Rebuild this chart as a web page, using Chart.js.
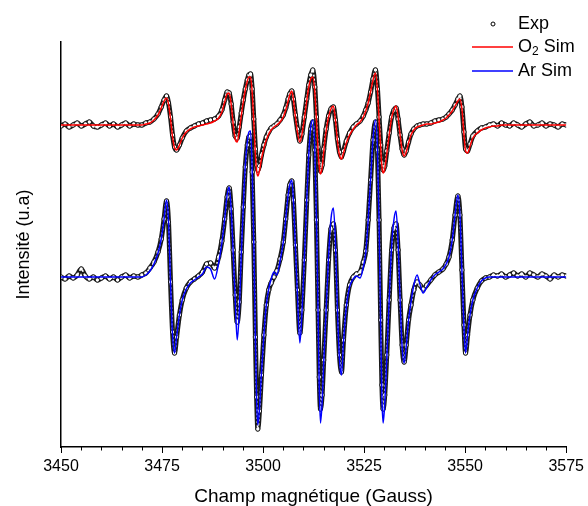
<!DOCTYPE html>
<html>
<head>
<meta charset="utf-8">
<script src="https://cdn.jsdelivr.net/npm/chart.js@4.4.1/dist/chart.umd.min.js"></script>
<style>
  body { margin: 0; background: #fff; }
  #wrap { width: 588px; height: 506px; }
</style>
</head>
<body>
<div id="wrap"><canvas id="epr" width="588" height="506"></canvas></div>
<script>
// magnetic field (Gauss), shared by all four traces
const field = [
  3450, 3451, 3452, 3453, 3454, 3455, 3456, 3457, 3458, 3459,
  3460, 3461, 3462, 3463, 3464, 3465, 3466, 3467, 3468, 3469,
  3470, 3471, 3472, 3473, 3474, 3474.8, 3475.5, 3476.1, 3476.6, 3477.1,
  3477.6, 3478.1, 3478.6, 3479.3, 3480, 3481, 3482, 3483, 3484, 3485,
  3486, 3487, 3488, 3489, 3489.8, 3490.5, 3491.1, 3491.6, 3492.1, 3492.6,
  3493.1, 3493.6, 3494.1, 3494.6, 3495.1, 3495.6, 3496.1, 3496.5, 3496.9, 3497.3,
  3497.7, 3498.1, 3498.4, 3498.7, 3499.1, 3499.6, 3500.2, 3500.8, 3501.4, 3502,
  3502.7, 3503.4, 3504.2, 3505, 3505.6, 3506.2, 3506.6, 3507.1, 3507.5, 3508,
  3508.5, 3509.1, 3509.6, 3510.2, 3510.8, 3511.3, 3511.8, 3512.3, 3512.8, 3513.2,
  3513.6, 3513.9, 3514.2, 3514.6, 3515, 3515.6, 3516.2, 3516.8, 3517.4, 3517.9,
  3518.4, 3518.9, 3519.4, 3519.9, 3520.6, 3521.4, 3522.3, 3523.1, 3524, 3524.8,
  3525.4, 3526, 3526.6, 3527.2, 3527.8, 3528.3, 3528.7, 3529.1, 3529.4, 3529.7,
  3530.1, 3530.6, 3531.2, 3531.8, 3532.4, 3532.9, 3533.4, 3533.9, 3534.4, 3534.9,
  3535.4, 3536, 3536.6, 3537.3, 3538.1, 3538.8, 3539.6, 3540.5, 3541.5, 3542.5,
  3543.5, 3544.5, 3545.3, 3546, 3546.8, 3547.5, 3548.2, 3548.7, 3549.2, 3549.7,
  3550.1, 3550.6, 3551.2, 3551.9, 3553, 3554, 3555, 3556, 3557, 3558,
  3559, 3560, 3561, 3562, 3563, 3564, 3565, 3566, 3567, 3568,
  3569, 3570, 3571, 3572, 3573, 3574, 3575
];

// O2 sample (upper trace), arbitrary units
const o2Exp = [
  321, 323, 320, 322, 324, 321, 323, 325, 321, 320,
  322, 324, 321, 323, 320, 322, 324, 321, 323, 322,
  322, 324, 325, 328, 333, 340, 347, 351, 344, 330,
  312, 300, 297, 302, 309, 316, 319, 321, 323, 324,
  326, 327, 328, 331, 337, 347, 355, 354, 343, 325,
  311, 309, 320, 334, 347, 358, 367, 372, 373, 358,
  328, 298, 282, 277, 281, 292, 302, 310, 315, 319,
  321, 323, 327, 332, 339, 348, 353, 356, 348, 332,
  318, 306, 313, 330, 348, 362, 372, 377, 360, 330,
  300, 284, 276, 282, 298, 318, 331, 338, 340, 327,
  308, 295, 290, 296, 306, 314, 320, 323, 326, 331,
  337, 344, 355, 368, 377, 358, 330, 302, 284, 277,
  281, 296, 314, 330, 337, 339, 328, 312, 298, 292,
  296, 305, 313, 318, 321, 322, 323, 323, 324, 326,
  327, 328, 330, 333, 337, 342, 348, 351, 340, 315,
  298, 296, 303, 311, 316, 319, 320, 322, 323, 321,
  324, 322, 321, 324, 322, 320, 323, 325, 321, 322,
  324, 321, 323, 322, 320, 323, 322
];
const o2Sim = [
  322, 322, 322, 322, 322, 322, 322, 322, 322, 322,
  322, 322, 322, 322, 322, 322, 322, 322, 322, 322,
  322, 323, 324, 327, 332, 339, 346, 349, 343, 328,
  310, 299, 297, 302, 309, 315, 318, 320, 321, 322,
  323, 324, 326, 329, 335, 345, 353, 354, 343, 323,
  308, 305, 316, 331, 345, 357, 366, 370, 370, 355,
  325, 292, 276, 271, 276, 288, 299, 307, 313, 317,
  320, 322, 325, 330, 337, 346, 352, 356, 348, 330,
  315, 305, 312, 328, 346, 360, 368, 370, 355, 327,
  297, 280, 273, 279, 295, 316, 330, 338, 341, 327,
  306, 292, 288, 294, 304, 312, 318, 322, 325, 330,
  336, 344, 355, 367, 374, 357, 328, 299, 281, 274,
  278, 293, 312, 329, 338, 341, 330, 312, 297, 291,
  295, 304, 312, 317, 320, 321, 322, 323, 323, 324,
  325, 327, 329, 332, 336, 341, 346, 348, 338, 313,
  296, 294, 301, 309, 314, 317, 319, 320, 321, 321,
  322, 322, 322, 322, 322, 322, 322, 322, 322, 322,
  322, 322, 322, 322, 322, 322, 322
];

// Ar sample (lower trace), arbitrary units
const arExp = [
  170, 168, 171, 169, 172, 178, 171, 168, 170, 167,
  169, 171, 168, 170, 167, 170, 172, 169, 171, 170,
  172, 174, 179, 185, 195, 208, 228, 246, 225, 165,
  115, 94, 110, 132, 147, 159, 165, 168, 171, 175,
  183, 184, 179, 190, 206, 228, 250, 259, 238, 197,
  152, 125, 145, 195, 240, 280, 302, 310, 311, 275,
  205, 110, 50, 18, 36, 72, 112, 142, 157, 164,
  170, 176, 188, 205, 228, 252, 262, 266, 247, 202,
  157, 114, 137, 187, 247, 292, 318, 325, 297, 227,
  137, 70, 38, 52, 87, 137, 187, 218, 223, 197,
  137, 92, 75, 107, 142, 162, 170, 173, 175, 185,
  196, 227, 267, 307, 325, 297, 227, 127, 62, 38,
  52, 92, 147, 197, 219, 223, 197, 147, 102, 85,
  102, 127, 142, 157, 165, 162, 158, 162, 167, 172,
  175, 178, 183, 190, 207, 232, 251, 232, 177, 122,
  94, 112, 132, 147, 159, 166, 169, 170, 172, 171,
  173, 170, 172, 174, 171, 173, 170, 174, 172, 170,
  173, 171, 168, 172, 170, 172, 171
];
const arSim = [
  170, 170, 170, 170, 170, 170, 170, 170, 170, 170,
  170, 170, 170, 170, 170, 170, 170, 170, 170, 170,
  170, 172, 176, 183, 194, 208, 228, 247, 226, 164,
  112, 94, 110, 132, 147, 158, 164, 167, 170, 173,
  180, 178, 168, 184, 204, 228, 252, 260, 238, 195,
  148, 107, 135, 192, 240, 282, 305, 315, 316, 278,
  205, 108, 48, 22, 38, 74, 112, 142, 158, 168,
  175, 172, 186, 205, 228, 252, 262, 267, 247, 200,
  152, 104, 133, 187, 247, 292, 320, 327, 298, 230,
  135, 60, 24, 44, 84, 137, 190, 228, 239, 205,
  137, 88, 72, 105, 140, 160, 168, 171, 169, 180,
  194, 227, 267, 308, 327, 298, 225, 120, 50, 24,
  44, 88, 147, 200, 228, 236, 205, 148, 100, 84,
  100, 127, 145, 162, 172, 163, 154, 160, 167, 172,
  175, 178, 183, 190, 207, 232, 252, 232, 176, 120,
  94, 112, 132, 147, 159, 166, 169, 170, 170, 170,
  170, 170, 170, 170, 170, 170, 170, 170, 170, 170,
  170, 170, 170, 170, 170, 170, 170
];

const xMin = 3450, xMax = 3575, xStep = 25, xMinorStep = 5;
const legendLabels = ["Exp", "O\u2082 Sim", "Ar Sim"];
const font = 'Arial, "Liberation Sans", sans-serif';

const pts = ys => field.map((x, i) => ({ x: x, y: ys[i] }));

// the measured points are very dense in the original: draw them as a dark
// beaded band (thick line + dashed white core) with small open circles
function expBand(ys) {
  return {
    label: legendLabels[0], data: pts(ys), order: 3,
    borderColor: '#1a1a1a', borderWidth: 5, cubicInterpolationMode: 'monotone',
    pointRadius: 2.2, pointBorderWidth: 1, pointBorderColor: '#111', pointBackgroundColor: '#fff'
  };
}
function expCore(ys) {
  return {
    label: '', data: pts(ys), order: 2,
    borderColor: '#ffffff', borderWidth: 1.6, borderDash: [2, 2], cubicInterpolationMode: 'monotone',
    pointRadius: 0
  };
}

// ticks on the x axis + legend in the top right corner
const extras = {
  id: 'extras',
  afterDraw(chart) {
    const c = chart.ctx;
    const xs = chart.scales.x;
    const bottom = chart.chartArea.bottom;
    c.save();
    c.strokeStyle = '#000';
    c.lineWidth = 1;
    for (let v = xMin; v <= xMax; v += xMinorStep) {
      const major = (v - xMin) % xStep === 0;
      const px = Math.round(xs.getPixelForValue(v)) + 0.5;
      c.beginPath();
      c.moveTo(px, bottom);
      c.lineTo(px, bottom + (major ? 6 : 3.5));
      c.stroke();
    }

    // legend
    const big = '18px ' + font, small = '12px ' + font;
    c.textBaseline = 'middle';
    const tx = 518, rows = [24, 47, 71];
    c.beginPath();
    c.arc(493, rows[0], 2, 0, Math.PI * 2);
    c.fillStyle = '#fff';
    c.fill();
    c.strokeStyle = '#000';
    c.stroke();
    c.lineWidth = 1.5;
    c.strokeStyle = '#ff0000';
    c.beginPath(); c.moveTo(472, rows[1]); c.lineTo(513, rows[1]); c.stroke();
    c.strokeStyle = '#0000ff';
    c.beginPath(); c.moveTo(472, rows[2]); c.lineTo(513, rows[2]); c.stroke();
    c.fillStyle = '#000';
    legendLabels.forEach((lab, i) => {
      let x = tx;
      for (const ch of lab) {
        if (ch === '\u2082') {
          c.font = small;
          c.fillText('2', x, rows[i] + 5);
          x += c.measureText('2').width;
        } else {
          c.font = big;
          c.fillText(ch, x, rows[i]);
          x += c.measureText(ch).width;
        }
      }
    });
    c.restore();
  }
};

new Chart(document.getElementById('epr').getContext('2d'), {
  type: 'line',
  data: {
    datasets: [
      expBand(o2Exp),
      expBand(arExp),
      expCore(o2Exp),
      expCore(arExp),
      {
        label: legendLabels[1], data: pts(o2Sim), order: 1, borderColor: '#ff0000', borderWidth: 1.5,
        pointRadius: 0, cubicInterpolationMode: 'monotone'
      },
      {
        label: legendLabels[2], data: pts(arSim), order: 1, borderColor: '#0000ff', borderWidth: 1.5,
        pointRadius: 0, cubicInterpolationMode: 'monotone'
      }
    ]
  },
  options: {
    responsive: false,
    devicePixelRatio: 1,
    animation: false,
    layout: { padding: { top: 42, right: 19, left: 0, bottom: 0 } },
    plugins: { legend: { display: false }, tooltip: { enabled: false } },
    scales: {
      x: {
        type: 'linear', min: xMin, max: xMax,
        afterFit: s => { s.height = 59; },
        border: { color: '#000', width: 1.5 },
        grid: { display: true, drawOnChartArea: false, drawTicks: true, tickLength: 6, tickColor: '#000', tickWidth: 1 },
        ticks: {
          stepSize: xStep, color: '#000', padding: 4, maxRotation: 0,
          font: { family: font, size: 16 },
          callback: v => String(v)
        },
        title: {
          display: true, text: 'Champ magnétique (Gauss)', color: '#000',
          font: { family: font, size: 19, lineHeight: 1 }, padding: { top: 0, bottom: 0 }
        }
      },
      y: {
        min: 0, max: 405,
        afterFit: s => { s.width = 61; },
        border: { color: '#000', width: 1.5 },
        grid: { display: true, drawOnChartArea: false, drawTicks: false },
        ticks: { display: false },
        title: {
          display: true, text: 'Intensité (u.a)', color: '#000',
          font: { family: font, size: 18, lineHeight: 1 }, padding: { top: 15, bottom: 0 }
        }
      }
    }
  },
  plugins: [extras]
});
</script>
</body>
</html>
